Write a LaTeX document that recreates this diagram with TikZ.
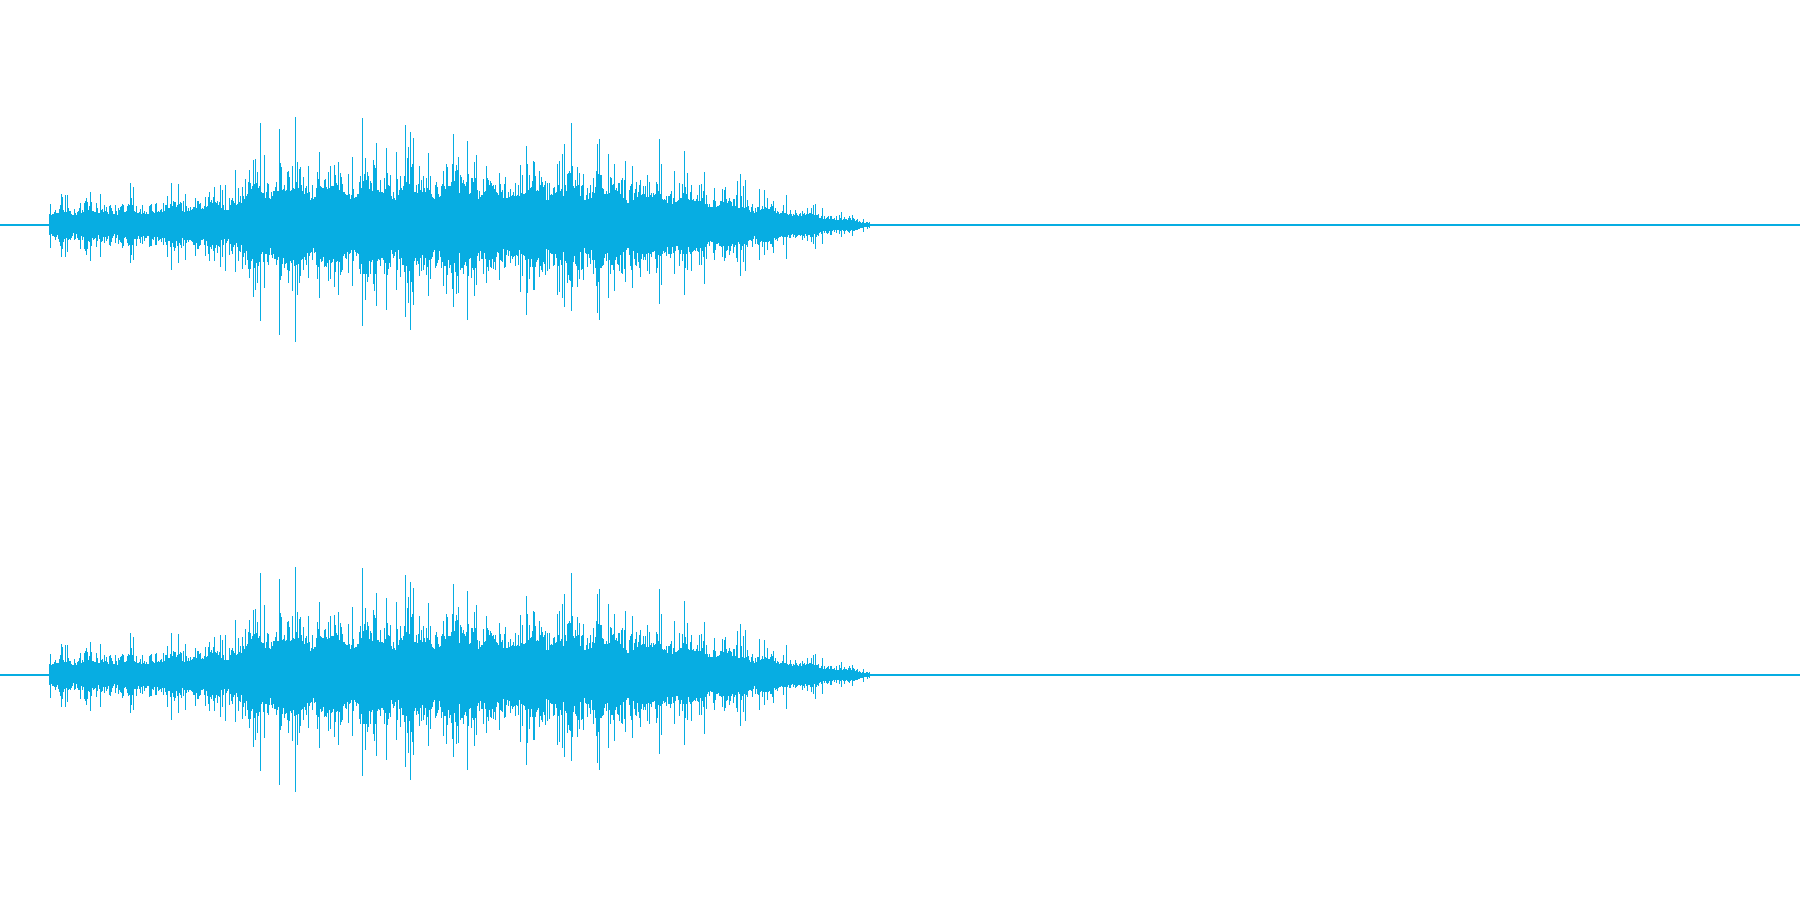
\documentclass[tikz,border=0pt]{standalone}
\definecolor{wav}{RGB}{7,173,226}
\tikzset{wavebar/.style={fill=wav,draw=none},axisline/.style={draw=wav,line width=0.42pt}}
\newcommand\mywavechannel[1]{%
  \pgfmathsetseed{4242}%
  \foreach \i in {49,...,869}{%
    \pgfmathsetmacro\wD{\i<55 ? 7+(\i-49)*0.8 : (\i<145 ? 12 : (\i<240 ? 12+(\i-145)*8/95 : (\i<250 ? 20+(\i-240)*1.2 : (\i<350 ? 32 : (\i<620 ? 32-(\i-350)*3/270 : (\i<700 ? 29-(\i-620)*7/80 : (\i<775 ? 22-(\i-700)*10/75 : (\i<840 ? 12-(\i-775)*7/65 : 5-(\i-840)*3/29))))))))}%
    \pgfmathsetmacro\wM{1+0.15*sin(\i*9)+0.1*sin(\i*17+40)}%
    \pgfmathsetmacro\wr{rnd}%
    \pgfmathsetmacro\ws{rnd}%
    \pgfmathsetmacro\wt{rnd}%
    \pgfmathsetmacro\wA{\wD*\wM*(\wr<0.1 ? 1.8+1.25*\ws : 1+0.85*\ws*\ws)}%
    \pgfmathsetmacro\wB{\wA*(0.85+0.3*\wt)}%
    \fill[wavebar] (\i,#1-\wA) rectangle (\i+1.15,#1+\wB);
  }%
}
\begin{document}
\begin{tikzpicture}[x=0.4pt,y=-0.4pt]
\useasboundingbox (0,0) rectangle (1800,900);
\fill[white] (0,0) rectangle (1800,900);
\draw[axisline] (0,225) -- (1800,225);
\draw[axisline] (0,675) -- (1800,675);
\mywavechannel{225}
\mywavechannel{675}
\end{tikzpicture}
\end{document}
